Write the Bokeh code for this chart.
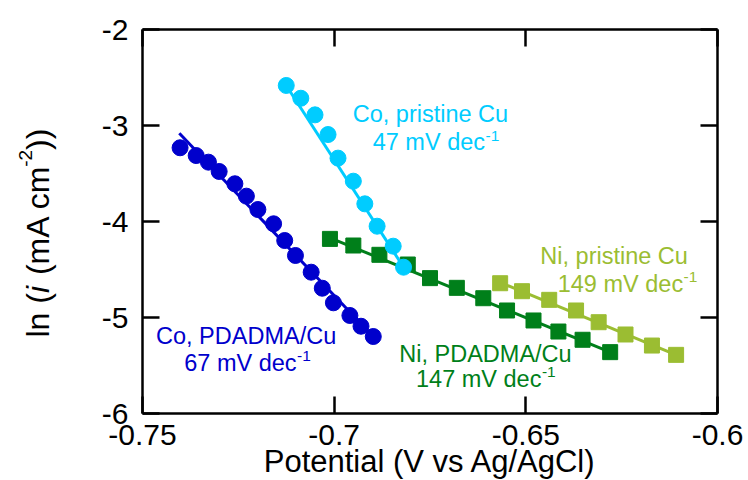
import math
from bokeh.plotting import figure
from bokeh.models import Range1d, LinearAxis, FixedTicker, Label
from bokeh.embed import file_html
from bokeh.resources import INLINE

# ---------------- data ----------------
# Co on PDADMA/Cu  (potential V vs Ag/AgCl, ln(i / mA cm^-2))
co_pd_v = [-0.7402, -0.7360, -0.7328, -0.7300, -0.7259, -0.7229, -0.7199, -0.7158,
           -0.7129, -0.7101, -0.7060, -0.7031, -0.7002, -0.6959, -0.6930, -0.6898]
co_pd_ln = [-3.232, -3.313, -3.382, -3.479, -3.607, -3.736, -3.875, -4.024,
            -4.198, -4.354, -4.528, -4.695, -4.847, -4.979, -5.091, -5.198]
co_pd_fit_v = [-0.7404, -0.6898]
co_pd_fit_ln = [-3.080, -5.198]

# Co on pristine Cu
co_pr_v = [-0.7125, -0.7087, -0.7050, -0.7016, -0.6990, -0.6950, -0.6920, -0.6888,
           -0.6846, -0.6819]
co_pr_ln = [-2.583, -2.716, -2.889, -3.094, -3.340, -3.580, -3.816, -4.049,
            -4.257, -4.476]
co_pr_fit_v = [-0.7125, -0.6819]
co_pr_fit_ln = [-2.583, -4.476]

# Ni on PDADMA/Cu
ni_pd_v = [-0.7011, -0.6950, -0.6882, -0.6808, -0.6750, -0.6680, -0.6611, -0.6549,
           -0.6480, -0.6415, -0.6352, -0.6280]
ni_pd_ln = [-4.181, -4.250, -4.347, -4.448, -4.590, -4.691, -4.799, -4.927,
            -5.031, -5.146, -5.232, -5.361]
ni_pd_fit_v = [-0.7011, -0.6280]
ni_pd_fit_ln = [-4.170, -5.361]

# Ni on pristine Cu
ni_pr_v = [-0.6567, -0.6510, -0.6439, -0.6369, -0.6310, -0.6240, -0.6171, -0.6108]
ni_pr_ln = [-4.643, -4.726, -4.816, -4.927, -5.049, -5.177, -5.292, -5.389]
ni_pr_fit_v = [-0.6567, -0.6108]
ni_pr_fit_ln = [-4.635, -5.389]

x_ticks = [-0.75, -0.7, -0.65, -0.6]
x_tick_labels = ["-0.75", "-0.7", "-0.65", "-0.6"]
y_ticks = [-6, -5, -4, -3, -2]
y_tick_labels = ["-6", "-5", "-4", "-3", "-2"]

series_names = ["Co, PDADMA/Cu", "Co, pristine Cu", "Ni, pristine Cu", "Ni, PDADMA/Cu"]
slope_texts = ["67 mV dec", "47 mV dec", "149 mV dec", "147 mV dec"]

# ---------------- geometry ----------------
W_PX, H_PX = 748, 480
BOX_L, BOX_R, BOX_T, BOX_B = 142, 717, 29, 413          # pixel position of the plot box
X0, X1 = x_ticks[0], x_ticks[-1]
Y0, Y1 = y_ticks[0], y_ticks[-1]
kx = (X1 - X0) / (BOX_R - BOX_L)
ky = (Y1 - Y0) / (BOX_B - BOX_T)
# the frame covers the whole canvas; the box is drawn by axes at fixed locations
x_lo, x_hi = X0 - BOX_L * kx, X1 + (W_PX - BOX_R) * kx
y_lo, y_hi = Y0 - (H_PX - BOX_B) * ky, Y1 + BOX_T * ky

# ---------------- styling ----------------
FONT = "Liberation Sans"
C_CO_PD = "#0000CC"
C_CO_PR = "#00CCFF"
C_NI_PD = "#007F1A"
C_NI_PR = "#9BBD32"
BASE_FIX = 0.42      # em; lifts Bokeh's "alphabetic" anchor onto the real baseline

# Arial / Liberation Sans advance widths (per em)
W = {' ': .278, '(': .333, ')': .333, '-': .333, '.': .278, ',': .278, '/': .278,
     'A': .667, 'C': .722, 'D': .722, 'M': .833, 'N': .722, 'P': .667, 'V': .667,
     'a': .556, 'c': .5, 'd': .556, 'e': .556, 'g': .556, 'i': .222, 'l': .222,
     'm': .833, 'n': .556, 'o': .556, 'p': .556, 'r': .333, 's': .5, 't': .278,
     'u': .556, 'v': .5}
for ch in "0123456789":
    W[ch] = .556


def tw(s, size):
    return sum(W.get(ch, .556) for ch in s) * size


p = figure(width=W_PX, height=H_PX, x_range=Range1d(x_lo, x_hi), y_range=Range1d(y_lo, y_hi),
           output_backend="svg", toolbar_location=None, x_axis_location=None,
           y_axis_location=None, min_border=0)
p.background_fill_color = "white"
p.border_fill_color = "white"
p.outline_line_color = None
p.grid.grid_line_color = None

xt = FixedTicker(ticks=x_ticks)
yt = FixedTicker(ticks=y_ticks)


def make_axis(ticker, loc, bounds, show_labels, overrides=None, standoff=8):
    ax = LinearAxis(ticker=ticker, fixed_location=loc, bounds=bounds)
    ax.axis_line_width = 2.5
    ax.axis_line_color = "black"
    ax.major_tick_line_width = 2.5
    ax.major_tick_line_color = "black"
    ax.major_tick_in = 17
    ax.major_tick_out = 0
    ax.minor_tick_line_color = None
    ax.axis_label = None
    if show_labels:
        ax.major_label_text_font = FONT
        ax.major_label_text_font_size = "30px"
        ax.major_label_text_color = "black"
        ax.major_label_standoff = standoff
        ax.major_label_overrides = overrides
    else:
        ax.major_label_text_font_size = "1px"
        ax.major_label_text_color = None
        ax.major_label_standoff = 0
    return ax


p.add_layout(make_axis(xt, Y0, (X0, X1), True, dict(zip(x_ticks, x_tick_labels)), 11), "below")
p.add_layout(make_axis(yt, X0, (Y0, Y1), True,
                       {float(k): v for k, v in zip(y_ticks, y_tick_labels)}, 14), "left")
p.add_layout(make_axis(xt, Y1, (X0, X1), False), "above")
p.add_layout(make_axis(yt, X1, (Y0, Y1), False), "right")

# ---------------- data marks ----------------
p.line(ni_pd_fit_v, ni_pd_fit_ln, line_width=3, color=C_NI_PD)
p.scatter(ni_pd_v, ni_pd_ln, marker="square", size=15, color=C_NI_PD)
p.line(ni_pr_fit_v, ni_pr_fit_ln, line_width=3, color=C_NI_PR)
p.scatter(ni_pr_v, ni_pr_ln, marker="square", size=15, color=C_NI_PR)
p.line(co_pd_fit_v, co_pd_fit_ln, line_width=3, color=C_CO_PD)
p.scatter(co_pd_v, co_pd_ln, marker="circle", size=16, color=C_CO_PD)
p.line(co_pr_fit_v, co_pr_fit_ln, line_width=3, color=C_CO_PR)
p.scatter(co_pr_v, co_pr_ln, marker="circle", size=16, color=C_CO_PR)

# ---------------- annotations ----------------
ANN_SIZE = 23.5
SUP_SIZE = 15.5
# (line1 x, line1 y, line2 x, line2 y, colour) in data units (text baselines)
ann_pos = [
    (-0.74648, -5.2917, -0.73910, -5.5729, C_CO_PD),
    (-0.69516, -2.9820, -0.68995, -3.2780, C_CO_PR),
    (-0.64622, -4.4580, -0.64168, -4.7530, C_NI_PR),
    (-0.68301, -5.4820, -0.67865, -5.7400, C_NI_PD),
]
for name, slope, (x1, y1, x2, y2, col) in zip(series_names, slope_texts, ann_pos):
    p.add_layout(Label(x=x1, y=y1, text=name, text_font=FONT, text_font_size=f"{ANN_SIZE}px",
                       y_offset=BASE_FIX * ANN_SIZE,
                       text_color=col, text_align="left", text_baseline="alphabetic"))
    p.add_layout(Label(x=x2, y=y2, text=slope, text_font=FONT, text_font_size=f"{ANN_SIZE}px",
                       y_offset=BASE_FIX * ANN_SIZE,
                       text_color=col, text_align="left", text_baseline="alphabetic"))
    p.add_layout(Label(x=x2, y=y2, text="-1", text_font=FONT, text_font_size=f"{SUP_SIZE}px",
                       x_offset=tw(slope, ANN_SIZE) + 0.5, y_offset=10 + BASE_FIX * SUP_SIZE,
                       text_color=col, text_align="left", text_baseline="alphabetic"))

# x-axis title
XL = 31
p.add_layout(Label(x=(X0 + X1) / 2, y=-6.6115, text="Potential (V vs Ag/AgCl)", text_font=FONT,
                   text_font_size=f"{XL}px", text_color="black", text_align="center",
                   y_offset=BASE_FIX * XL - 2, text_baseline="alphabetic"))

# y-axis title built from pieces (rotated): ln (i (mA cm^-2))
YL = 32
# (text, leading gap px, style, size, raise)
pieces = [("ln (", 0, "normal", YL, 0), ("i", 0, "italic", YL, 0),
          ("(mA cm", tw(" ", YL), "normal", YL, 0), ("-2", -2, "normal", 19, -12),
          ("))", 0, "normal", YL, 0)]
off = 0.0
for txt, gap, style, size, raise_px in pieces:
    off += gap
    p.add_layout(Label(x=-0.77622, y=-5.2083, text=txt, text_font=FONT,
                       text_font_size=f"{size}px", text_font_style=style,
                       text_color="black", angle=math.pi / 2, text_align="left",
                       text_baseline="alphabetic", y_offset=off, x_offset=raise_px - 4))
    off += tw(txt, size) + (2 if style == "italic" else 0)

open("out.html", "w").write(file_html(p, INLINE))
